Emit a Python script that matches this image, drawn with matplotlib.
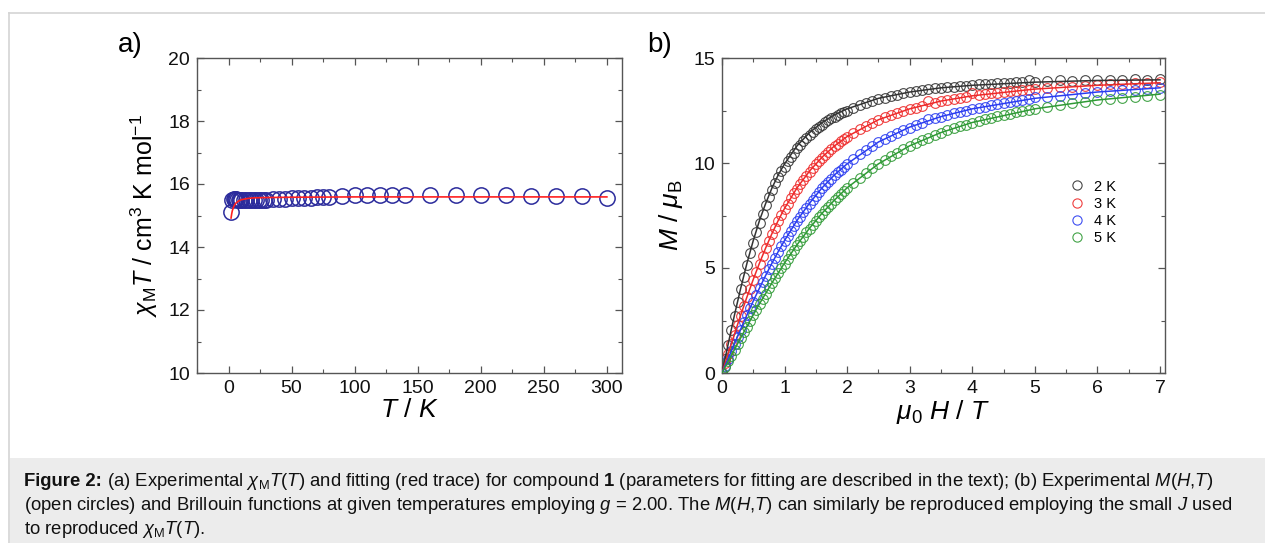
import matplotlib
matplotlib.use("Agg")
import matplotlib.pyplot as plt
from matplotlib.lines import Line2D
from matplotlib.patches import Rectangle
from matplotlib.ticker import MultipleLocator

plt.rcParams['font.family'] = ['Liberation Sans', 'DejaVu Sans']
plt.rcParams['mathtext.fontset'] = 'custom'
plt.rcParams['mathtext.rm'] = 'Liberation Sans'
plt.rcParams['mathtext.it'] = 'Liberation Sans:italic'
plt.rcParams['mathtext.bf'] = 'Liberation Sans:bold'

# chi_M T versus T
temps = [2, 3, 4, 5, 6, 7, 8, 9, 10, 12, 14, 16, 18, 20, 22, 24, 26, 28, 30,
         35, 40, 45, 50, 55, 60, 65, 70, 75, 80, 90, 100, 110, 120, 130, 140,
         160, 180, 200, 220, 240, 260, 280, 300]
chi_t = [15.10, 15.50, 15.53, 15.53, 15.52, 15.50, 15.50, 15.50, 15.50, 15.49,
         15.49, 15.49, 15.50, 15.50, 15.50, 15.50, 15.50, 15.50, 15.50, 15.51,
         15.52, 15.53, 15.54, 15.55, 15.56, 15.57, 15.58, 15.59, 15.60, 15.62,
         15.64, 15.64, 15.64, 15.66, 15.64, 15.66, 15.66, 15.65, 15.64, 15.63,
         15.63, 15.61, 15.56]
fit_temps = [2, 2.5, 3, 4, 5, 6, 8, 10, 15, 20, 30, 50, 100, 150, 200, 250, 300]
fit_chi_t = [14.92, 15.05, 15.15, 15.27, 15.35, 15.40, 15.46, 15.50, 15.54,
             15.56, 15.57, 15.58, 15.59, 15.59, 15.59, 15.59, 15.59]

# M versus field at 2-5 K
fields = [0.0, 0.05, 0.1, 0.15, 0.2, 0.25, 0.3, 0.35, 0.4, 0.45, 0.5,
          0.55, 0.6, 0.65, 0.7, 0.75, 0.8, 0.85, 0.9, 0.95, 1.0,
          1.05, 1.1, 1.15, 1.2, 1.25, 1.3, 1.35, 1.4, 1.45, 1.5,
          1.55, 1.6, 1.65, 1.7, 1.75, 1.8, 1.85, 1.9, 1.95, 2.0,
          2.1, 2.2, 2.3, 2.4, 2.5, 2.6, 2.7, 2.8, 2.9, 3.0,
          3.1, 3.2, 3.3, 3.4, 3.5, 3.6, 3.7, 3.8, 3.9, 4.0,
          4.1, 4.2, 4.3, 4.4, 4.5, 4.6, 4.7, 4.8, 4.9, 5.0,
          5.2, 5.4, 5.6, 5.8, 6.0, 6.2, 6.4, 6.6, 6.8, 7.0]
m_2k = [0.00, 0.68, 1.35, 2.05, 2.70, 3.36, 3.98, 4.58, 5.15, 5.70, 6.20,
        6.71, 7.15, 7.58, 7.98, 8.37, 8.70, 9.03, 9.32, 9.60, 9.83,
        10.08, 10.30, 10.50, 10.70, 10.88, 11.04, 11.20, 11.34, 11.48, 11.60,
        11.72, 11.83, 11.93, 12.03, 12.12, 12.21, 12.29, 12.37, 12.44, 12.50,
        12.63, 12.75, 12.85, 12.95, 13.03, 13.11, 13.18, 13.25, 13.31, 13.36,
        13.41, 13.46, 13.52, 13.55, 13.58, 13.61, 13.64, 13.66, 13.69, 13.72,
        13.74, 13.76, 13.78, 13.80, 13.81, 13.83, 13.84, 13.86, 13.93, 13.88,
        13.89, 13.95, 13.92, 13.93, 13.95, 13.94, 13.96, 13.99, 13.96, 14.00]
m_3k = [0.00, 0.46, 0.92, 1.38, 1.83, 2.29, 2.73, 3.17, 3.60, 4.01, 4.42,
        4.82, 5.20, 5.57, 5.93, 6.27, 6.61, 6.92, 7.23, 7.52, 7.80,
        8.06, 8.31, 8.55, 8.78, 8.99, 9.20, 9.40, 9.58, 9.76, 9.93,
        10.10, 10.25, 10.40, 10.53, 10.67, 10.80, 10.92, 11.03, 11.14, 11.24,
        11.43, 11.61, 11.77, 11.91, 12.05, 12.17, 12.29, 12.39, 12.48, 12.57,
        12.62, 12.72, 12.93, 12.88, 12.94, 12.99, 13.05, 13.10, 13.14, 13.32,
        13.24, 13.28, 13.31, 13.35, 13.38, 13.41, 13.44, 13.46, 13.49, 13.52,
        13.57, 13.61, 13.64, 13.69, 13.71, 13.74, 13.78, 13.80, 13.82, 13.86]
m_4k = [0.00, 0.34, 0.68, 1.04, 1.38, 1.73, 2.07, 2.41, 2.75, 3.08, 3.40,
        3.72, 4.03, 4.34, 4.63, 4.93, 5.21, 5.49, 5.76, 6.03, 6.28,
        6.53, 6.78, 7.01, 7.24, 7.45, 7.66, 7.87, 8.06, 8.25, 8.44,
        8.62, 8.79, 8.95, 9.11, 9.26, 9.41, 9.55, 9.68, 9.81, 9.94,
        10.19, 10.41, 10.61, 10.80, 10.98, 11.14, 11.29, 11.43, 11.56, 11.68,
        11.80, 11.90, 12.08, 12.12, 12.20, 12.28, 12.36, 12.43, 12.50, 12.57,
        12.63, 12.69, 12.75, 12.80, 12.86, 12.90, 12.95, 12.99, 13.03, 13.12,
        13.15, 13.21, 13.27, 13.32, 13.37, 13.42, 13.46, 13.50, 13.54, 13.58]
m_5k = [0.00, 0.28, 0.55, 0.83, 1.10, 1.38, 1.66, 1.94, 2.21, 2.48, 2.75,
        3.01, 3.27, 3.53, 3.78, 4.03, 4.27, 4.52, 4.75, 4.99, 5.21,
        5.44, 5.66, 5.88, 6.09, 6.30, 6.50, 6.70, 6.88, 7.07, 7.25,
        7.42, 7.59, 7.76, 7.91, 8.07, 8.22, 8.38, 8.52, 8.66, 8.80,
        9.06, 9.30, 9.53, 9.75, 9.95, 10.14, 10.32, 10.50, 10.66, 10.81,
        10.95, 11.08, 11.21, 11.33, 11.44, 11.55, 11.65, 11.74, 11.83, 11.92,
        12.00, 12.08, 12.15, 12.22, 12.29, 12.35, 12.41, 12.47, 12.52, 12.57,
        12.67, 12.76, 12.84, 12.92, 12.98, 13.05, 13.10, 13.15, 13.18, 13.22]

# Brillouin curves, g = 2.00
fit_fields = [0, 0.1, 0.2, 0.3, 0.4, 0.5, 0.6, 0.7, 0.8, 0.9, 1.0, 1.2, 1.4,
              1.6, 1.8, 2.0, 2.5, 3.0, 3.5, 4.0, 5.0, 6.0, 7.0]
fit_2k = [0, 1.40, 2.77, 4.05, 5.24, 6.31, 7.27, 8.09, 8.82, 9.44, 9.96, 10.82,
          11.45, 11.93, 12.30, 12.58, 13.08, 13.38, 13.58, 13.70, 13.85, 13.93, 13.96]
fit_3k = [0, 0.94, 1.86, 2.77, 3.63, 4.46, 5.24, 5.97, 6.65, 7.27, 7.84, 8.82,
          9.62, 10.28, 10.82, 11.26, 12.06, 12.58, 12.95, 13.20, 13.52, 13.70, 13.82]
fit_4k = [0, 0.70, 1.40, 2.09, 2.77, 3.43, 4.05, 4.66, 5.24, 5.79, 6.31, 7.27,
          8.09, 8.82, 9.44, 9.96, 11.00, 11.71, 12.21, 12.58, 13.08, 13.38, 13.58]
fit_5k = [0, 0.56, 1.12, 1.68, 2.23, 2.77, 3.30, 3.80, 4.30, 4.77, 5.24, 6.11,
          6.90, 7.61, 8.24, 8.82, 9.96, 10.82, 11.45, 11.93, 12.58, 13.00, 13.28]

series = [('2 K', m_2k, fit_2k, '#333333'),
          ('3 K', m_3k, fit_3k, '#ee2a2a'),
          ('4 K', m_4k, fit_4k, '#2a3cf0'),
          ('5 K', m_5k, fit_5k, '#2f9a35')]

caption_head = 'Figure 2:'
caption = [
    r" (a) Experimental $\chi_{\mathrm{M}}T$($T$) and fitting (red trace) for compound "
    r"$\mathbf{1}$ (parameters for fitting are described in the text); (b) Experimental $M$($H$,$T$)",
    r"(open circles) and Brillouin functions at given temperatures employing $g$ = 2.00. "
    r"The $M$($H$,$T$) can similarly be reproduced employing the small $J$ used",
    r"to reproduced $\chi_{\mathrm{M}}T$($T$).",
]

spine_col = '#555555'


def style_axes(ax):
    for s in ax.spines.values():
        s.set_color(spine_col)
        s.set_linewidth(1.0)
    ax.tick_params(which='both', direction='in', top=True, right=True,
                   color=spine_col, labelsize=14, labelcolor='#111111')
    ax.tick_params(which='major', length=5, width=0.9, pad=5)
    ax.tick_params(which='minor', length=3, width=0.8)


fig = plt.figure(figsize=(12.65, 5.43), dpi=100)

# page frame and caption box
fig.add_artist(Line2D([9 / 1265, 1], [1 - 13 / 543] * 2, color='#d4d4d4', lw=1.2))
fig.add_artist(Line2D([9 / 1265] * 2, [1 - 13 / 543, 0], color='#d4d4d4', lw=1.2))
fig.add_artist(Rectangle((9.5 / 1265, 0), 1, 85 / 543, color='#ececec', lw=0))

ax1 = fig.add_axes([197 / 1265, 170 / 543, 425 / 1265, 315 / 543])
ax2 = fig.add_axes([722 / 1265, 170 / 543, 443 / 1265, 315 / 543])

ax1.plot(temps, chi_t, 'o', ms=11, mfc='none', mec='#2b2b9c', mew=1.1, zorder=2)
ax1.plot(fit_temps, fit_chi_t, '-', color='#ff2020', lw=1.2, zorder=3)
ax1.set_xlim(-25, 312)
ax1.set_ylim(10, 20)
ax1.xaxis.set_major_locator(MultipleLocator(50))
ax1.xaxis.set_minor_locator(MultipleLocator(25))
ax1.yaxis.set_major_locator(MultipleLocator(2))
ax1.yaxis.set_minor_locator(MultipleLocator(1))
style_axes(ax1)
ax1.set_xlabel(r"$T$ / $K$", fontsize=19, labelpad=1)
ax1.set_ylabel(r"$\chi_{\mathrm{M}}$$T$ / cm$^{3}$ K mol$^{-1}$", fontsize=18, labelpad=6)

for label, m_data, m_fit, col in series:
    ax2.plot(fit_fields, m_fit, '-', color=col, lw=1.1, zorder=3)
    ax2.plot(fields, m_data, 'o', ms=7, mfc='none', mec=col, mew=0.8, alpha=0.9,
             label=label, zorder=2)
ax2.set_xlim(0, 7.08)
ax2.set_ylim(0, 15)
ax2.xaxis.set_major_locator(MultipleLocator(1))
ax2.xaxis.set_minor_locator(MultipleLocator(0.5))
ax2.yaxis.set_major_locator(MultipleLocator(5))
ax2.yaxis.set_minor_locator(MultipleLocator(2.5))
style_axes(ax2)
ax2.set_xlabel(r"$\mu_0$ $H$ / $T$", fontsize=19, labelpad=1)
ax2.set_ylabel(r"$M$ / $\mu_{\mathrm{B}}$", fontsize=19, labelpad=6)
ax2.legend(loc='center left', bbox_to_anchor=(0.755, 0.51), frameon=False,
           fontsize=10.5, handletextpad=0.7, labelspacing=0.22, markerscale=0.95,
           handlelength=1.0)

fig.text(118 / 1265, 1 - 45 / 543, 'a)', fontsize=20, va='center')
fig.text(647 / 1265, 1 - 45 / 543, 'b)', fontsize=20, va='center')

# caption: bold heading followed by the running text
cap_size = 13.3
head = fig.text(24 / 1265, 1 - 482 / 543, caption_head, fontsize=cap_size,
                fontweight='bold', va='center', color='#111111')
renderer = fig.canvas.get_renderer()
head_w = head.get_window_extent(renderer).width / 1265
for i, line in enumerate(caption):
    x0 = 24 / 1265 + (head_w if i == 0 else 0)
    fig.text(x0, 1 - (482 + 24 * i) / 543, line, fontsize=cap_size,
             va='center', color='#111111')

fig.savefig('out.png', dpi=100)
